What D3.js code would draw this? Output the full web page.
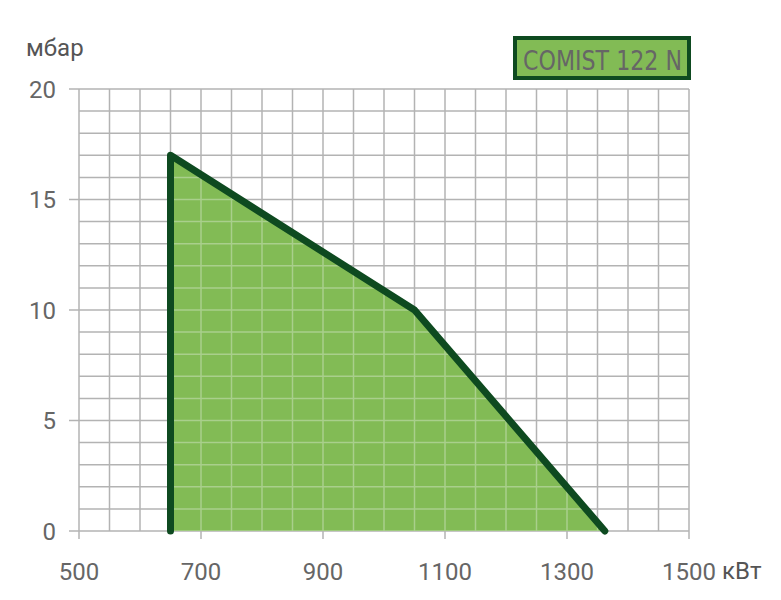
<!DOCTYPE html>
<html><head><meta charset="utf-8">
<script src="https://cdn.jsdelivr.net/npm/d3@7/dist/d3.min.js"></script>
<style>body{margin:0;background:#fff}</style>
</head><body>
<svg id="c" width="781" height="600"></svg>
<script>
const xTicks = [500, 700, 900, 1100, 1300, 1500];
const yTicks = [0, 5, 10, 15, 20];
const areaX = [650, 650, 1050, 1362];
const areaY = [0, 17, 10, 0];
const legendLabel = "COMIST 122 N";
const xUnit = "кВт", yUnit = "мбар";

const svg = d3.select("#c");
const x = d3.scaleLinear().domain([500, 1500]).range([79, 689]);
const y = d3.scaleLinear().domain([0, 20]).range([531, 89]);
const grid = "#b3b3b3", txt = "#666";
const font = "Roboto,'DejaVu Sans',sans-serif";
const lfont = "'DejaVu Sans Condensed',Roboto,sans-serif";

const g = svg.append("g");
d3.range(500, 1501, 50).forEach(v => {
  const major = xTicks.includes(v);
  g.append("line").attr("x1", x(v)).attr("x2", x(v)).attr("y1", y(20)).attr("y2", major ? y(0) + 8 : y(0))
    .attr("stroke", grid).attr("stroke-width", 1.5);
});
d3.range(0, 21, 1).forEach(v => {
  const major = yTicks.includes(v);
  g.append("line").attr("y1", y(v)).attr("y2", y(v)).attr("x1", major ? x(500) - 10 : x(500)).attr("x2", x(1500))
    .attr("stroke", grid).attr("stroke-width", 1.5);
});

const pts = areaX.map((v, i) => [x(v), y(areaY[i])]);
svg.append("path").attr("d", d3.line()(pts) + "Z").attr("fill", "#82bb55");
const clip = svg.append("clipPath").attr("id", "ac");
clip.append("path").attr("d", d3.line()(pts) + "Z");
const g2 = svg.append("g").attr("clip-path", "url(#ac)");
d3.range(500, 1501, 50).forEach(v => g2.append("line").attr("x1", x(v)).attr("x2", x(v)).attr("y1", y(20)).attr("y2", y(0)).attr("stroke", "#a9cf8c").attr("stroke-width", 1.5));
d3.range(0, 21, 1).forEach(v => g2.append("line").attr("y1", y(v)).attr("y2", y(v)).attr("x1", x(500)).attr("x2", x(1500)).attr("stroke", "#a9cf8c").attr("stroke-width", 1.5));

svg.append("path").attr("d", d3.line()(pts)).attr("fill", "none").attr("stroke", "#0e4a20")
  .attr("stroke-width", 7).attr("stroke-linejoin", "round").attr("stroke-linecap", "round");

yTicks.forEach(v => svg.append("text").attr("x", 56).attr("y", y(v)).attr("dy", "0.36em").attr("text-anchor", "end")
  .attr("font-family", font).attr("font-size", 24).attr("fill", txt).text(v));
xTicks.forEach(v => svg.append("text").attr("x", x(v)).attr("y", 580).attr("text-anchor", "middle")
  .attr("font-family", font).attr("font-size", 24).attr("fill", txt).text(v));
svg.append("text").attr("x", 722).attr("y", 579).attr("font-family", font).attr("font-size", 24).attr("fill", "#555").text(xUnit);
svg.append("text").attr("x", 26).attr("y", 56).attr("font-family", font).attr("font-size", 24).attr("fill", "#555").text(yUnit);

svg.append("rect").attr("x", 515).attr("y", 38).attr("width", 174).attr("height", 40)
  .attr("fill", "#82bb55").attr("stroke", "#0e4a20").attr("stroke-width", 4);
svg.append("text").attr("x", 523).attr("y", 70).attr("textLength", 159).attr("lengthAdjust", "spacingAndGlyphs")
  .attr("font-family", lfont).attr("font-size", 26).attr("fill", "#666").text(legendLabel);
</script>
</body></html>
